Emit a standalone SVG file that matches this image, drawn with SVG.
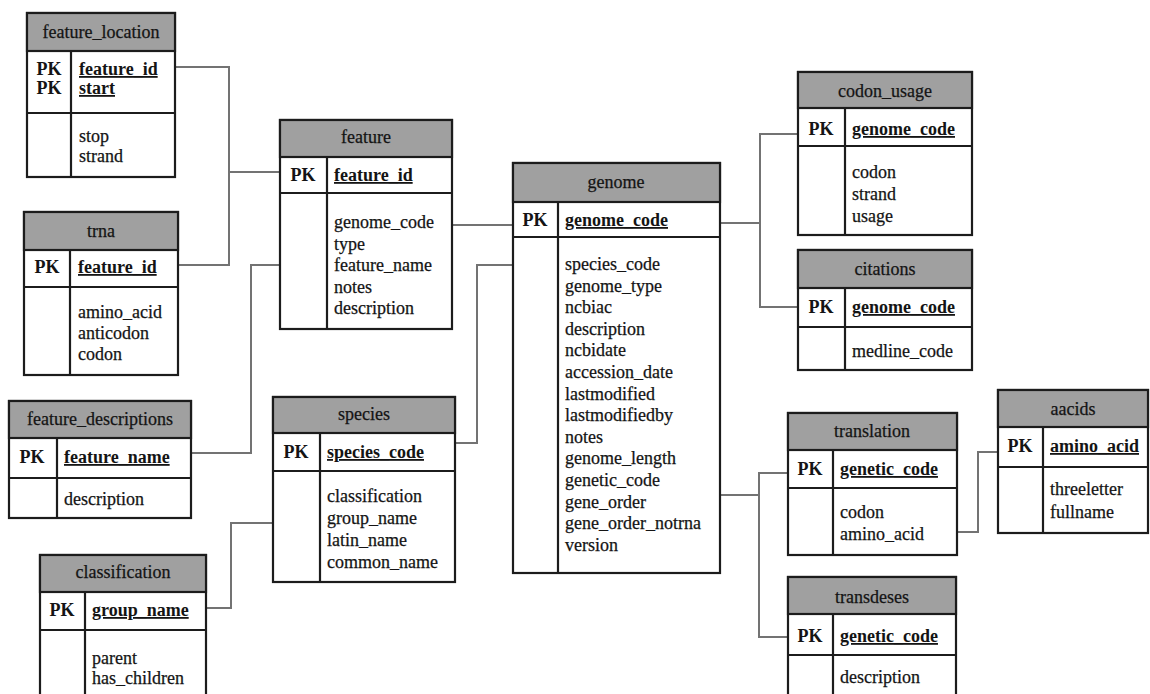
<svg xmlns="http://www.w3.org/2000/svg" width="1150" height="694" viewBox="0 0 1150 694">
  <style>
    .body { fill: #ffffff; stroke: #1c1c1c; stroke-width: 2.2; }
    .hdr { fill: #a0a0a0; stroke: #1c1c1c; stroke-width: 2.2; }
    .sep { stroke: #1c1c1c; stroke-width: 2.2; }
    text { font-family: "Liberation Serif", "Times New Roman", "DejaVu Serif", serif; font-size: 18px; fill: #141414; stroke: #141414; stroke-width: 0.25; }
    .title { text-anchor: middle; }
    .pk { font-weight: bold; text-anchor: middle; stroke-width: 0; }
    .key { font-weight: bold; text-decoration: underline; stroke-width: 0; }
    .conn { fill: none; stroke: #737373; stroke-width: 2; }
  </style>
  <rect x="0" y="0" width="1150" height="694" fill="#ffffff"/>

  <!-- relationship lines -->
  <g id="connectors">
    <polyline class="conn" points="175,67 229,67 229,172 281,172"/>
    <polyline class="conn" points="178,265 229,265 229,172"/>
    <polyline class="conn" points="287,265 251,265 251,453 191,453"/>
    <polyline class="conn" points="206,608 231,608 231,523 280,523"/>
    <polyline class="conn" points="452,225 513,225"/>
    <polyline class="conn" points="455,443 477,443 477,265 518,265"/>
    <polyline class="conn" points="720,223 760,223"/>
    <polyline class="conn" points="802,134 760,134 760,307 802,307"/>
    <polyline class="conn" points="720,495 759,495"/>
    <polyline class="conn" points="790,473 759,473 759,637 790,637"/>
    <polyline class="conn" points="957,532 978,532 978,452 1002,452"/>
  </g>

  <!-- feature_location -->
  <g id="feature_location">
    <rect class="body" x="27" y="13" width="148" height="164"/>
    <rect class="hdr" x="27" y="13" width="148" height="38"/>
    <line class="sep" x1="27" y1="113" x2="175" y2="113"/>
    <line class="sep" x1="71" y1="51" x2="71" y2="177"/>
    <text class="title" x="101" y="38">feature_location</text>
    <text class="pk" x="49" y="75">PK</text>
    <text class="pk" x="49" y="94">PK</text>
    <text class="key" x="79" y="75">feature_id</text>
    <text class="key" x="79" y="94">start</text>
    <text x="79" y="142">stop</text>
    <text x="79" y="162">strand</text>
  </g>

  <!-- trna -->
  <g id="trna">
    <rect class="body" x="24" y="212" width="154" height="163"/>
    <rect class="hdr" x="24" y="212" width="154" height="38"/>
    <line class="sep" x1="24" y1="287" x2="178" y2="287"/>
    <line class="sep" x1="70" y1="250" x2="70" y2="375"/>
    <text class="title" x="101" y="237">trna</text>
    <text class="pk" x="47" y="273">PK</text>
    <text class="key" x="78" y="273">feature_id</text>
    <text x="78" y="318">amino_acid</text>
    <text x="78" y="339">anticodon</text>
    <text x="78" y="360">codon</text>
  </g>

  <!-- feature_descriptions -->
  <g id="feature_descriptions">
    <rect class="body" x="9" y="401" width="182" height="117"/>
    <rect class="hdr" x="9" y="401" width="182" height="37"/>
    <line class="sep" x1="9" y1="478" x2="191" y2="478"/>
    <line class="sep" x1="57" y1="438" x2="57" y2="518"/>
    <text class="title" x="100" y="425">feature_descriptions</text>
    <text class="pk" x="32" y="463">PK</text>
    <text class="key" x="64" y="463">feature_name</text>
    <text x="64" y="505">description</text>
  </g>

  <!-- classification -->
  <g id="classification">
    <rect class="body" x="40" y="555" width="166" height="150"/>
    <rect class="hdr" x="40" y="555" width="166" height="37"/>
    <line class="sep" x1="40" y1="630" x2="206" y2="630"/>
    <line class="sep" x1="85" y1="592" x2="85" y2="705"/>
    <text class="title" x="123" y="578">classification</text>
    <text class="pk" x="62" y="616">PK</text>
    <text class="key" x="92" y="616">group_name</text>
    <text x="92" y="664">parent</text>
    <text x="92" y="684">has_children</text>
  </g>

  <!-- feature -->
  <g id="feature">
    <rect class="body" x="280" y="120" width="172" height="209"/>
    <rect class="hdr" x="280" y="120" width="172" height="37"/>
    <line class="sep" x1="280" y1="193" x2="452" y2="193"/>
    <line class="sep" x1="327" y1="157" x2="327" y2="329"/>
    <text class="title" x="366" y="143">feature</text>
    <text class="pk" x="303" y="181">PK</text>
    <text class="key" x="334" y="181">feature_id</text>
    <text x="334" y="228">genome_code</text>
    <text x="334" y="249.6">type</text>
    <text x="334" y="271.2">feature_name</text>
    <text x="334" y="292.8">notes</text>
    <text x="334" y="314.4">description</text>
  </g>

  <!-- species -->
  <g id="species">
    <rect class="body" x="273" y="397" width="182" height="185"/>
    <rect class="hdr" x="273" y="397" width="182" height="36"/>
    <line class="sep" x1="273" y1="471" x2="455" y2="471"/>
    <line class="sep" x1="320" y1="433" x2="320" y2="582"/>
    <text class="title" x="364" y="420">species</text>
    <text class="pk" x="296" y="458">PK</text>
    <text class="key" x="327" y="458">species_code</text>
    <text x="327" y="502">classification</text>
    <text x="327" y="524">group_name</text>
    <text x="327" y="546">latin_name</text>
    <text x="327" y="568">common_name</text>
  </g>

  <!-- genome -->
  <g id="genome">
    <rect class="body" x="513" y="163" width="207" height="410"/>
    <rect class="hdr" x="513" y="163" width="207" height="39"/>
    <line class="sep" x1="513" y1="237" x2="720" y2="237"/>
    <line class="sep" x1="558" y1="202" x2="558" y2="573"/>
    <text class="title" x="616" y="188">genome</text>
    <text class="pk" x="535" y="226">PK</text>
    <text class="key" x="565" y="226">genome_code</text>
    <text x="565" y="270">species_code</text>
    <text x="565" y="291.6">genome_type</text>
    <text x="565" y="313.2">ncbiac</text>
    <text x="565" y="334.8">description</text>
    <text x="565" y="356.4">ncbidate</text>
    <text x="565" y="378">accession_date</text>
    <text x="565" y="399.6">lastmodified</text>
    <text x="565" y="421.2">lastmodifiedby</text>
    <text x="565" y="442.8">notes</text>
    <text x="565" y="464.4">genome_length</text>
    <text x="565" y="486">genetic_code</text>
    <text x="565" y="507.6">gene_order</text>
    <text x="565" y="529.2">gene_order_notrna</text>
    <text x="565" y="550.8">version</text>
  </g>

  <!-- codon_usage -->
  <g id="codon_usage">
    <rect class="body" x="798" y="72" width="174" height="163"/>
    <rect class="hdr" x="798" y="72" width="174" height="36"/>
    <line class="sep" x1="798" y1="146" x2="972" y2="146"/>
    <line class="sep" x1="845" y1="108" x2="845" y2="235"/>
    <text class="title" x="885" y="97">codon_usage</text>
    <text class="pk" x="821" y="135">PK</text>
    <text class="key" x="852" y="135">genome_code</text>
    <text x="852" y="178">codon</text>
    <text x="852" y="200">strand</text>
    <text x="852" y="222">usage</text>
  </g>

  <!-- citations -->
  <g id="citations">
    <rect class="body" x="798" y="250" width="174" height="120"/>
    <rect class="hdr" x="798" y="250" width="174" height="38"/>
    <line class="sep" x1="798" y1="327" x2="972" y2="327"/>
    <line class="sep" x1="845" y1="288" x2="845" y2="370"/>
    <text class="title" x="885" y="275">citations</text>
    <text class="pk" x="821" y="313">PK</text>
    <text class="key" x="852" y="313">genome_code</text>
    <text x="852" y="357">medline_code</text>
  </g>

  <!-- translation -->
  <g id="translation">
    <rect class="body" x="788" y="413" width="169" height="142"/>
    <rect class="hdr" x="788" y="413" width="169" height="37"/>
    <line class="sep" x1="788" y1="488" x2="957" y2="488"/>
    <line class="sep" x1="833" y1="450" x2="833" y2="555"/>
    <text class="title" x="872" y="437">translation</text>
    <text class="pk" x="810" y="475">PK</text>
    <text class="key" x="840" y="475">genetic_code</text>
    <text x="840" y="518">codon</text>
    <text x="840" y="540">amino_acid</text>
  </g>

  <!-- transdeses -->
  <g id="transdeses">
    <rect class="body" x="788" y="577" width="168" height="130"/>
    <rect class="hdr" x="788" y="577" width="168" height="37"/>
    <line class="sep" x1="788" y1="655" x2="956" y2="655"/>
    <line class="sep" x1="833" y1="614" x2="833" y2="707"/>
    <text class="title" x="872" y="603">transdeses</text>
    <text class="pk" x="810" y="642">PK</text>
    <text class="key" x="840" y="642">genetic_code</text>
    <text x="840" y="683">description</text>
  </g>

  <!-- aacids -->
  <g id="aacids">
    <rect class="body" x="998" y="390" width="150" height="143"/>
    <rect class="hdr" x="998" y="390" width="150" height="37"/>
    <line class="sep" x1="998" y1="467" x2="1148" y2="467"/>
    <line class="sep" x1="1043" y1="427" x2="1043" y2="533"/>
    <text class="title" x="1073" y="415">aacids</text>
    <text class="pk" x="1020" y="452">PK</text>
    <text class="key" x="1050" y="452">amino_acid</text>
    <text x="1050" y="495">threeletter</text>
    <text x="1050" y="518">fullname</text>
  </g>
</svg>
